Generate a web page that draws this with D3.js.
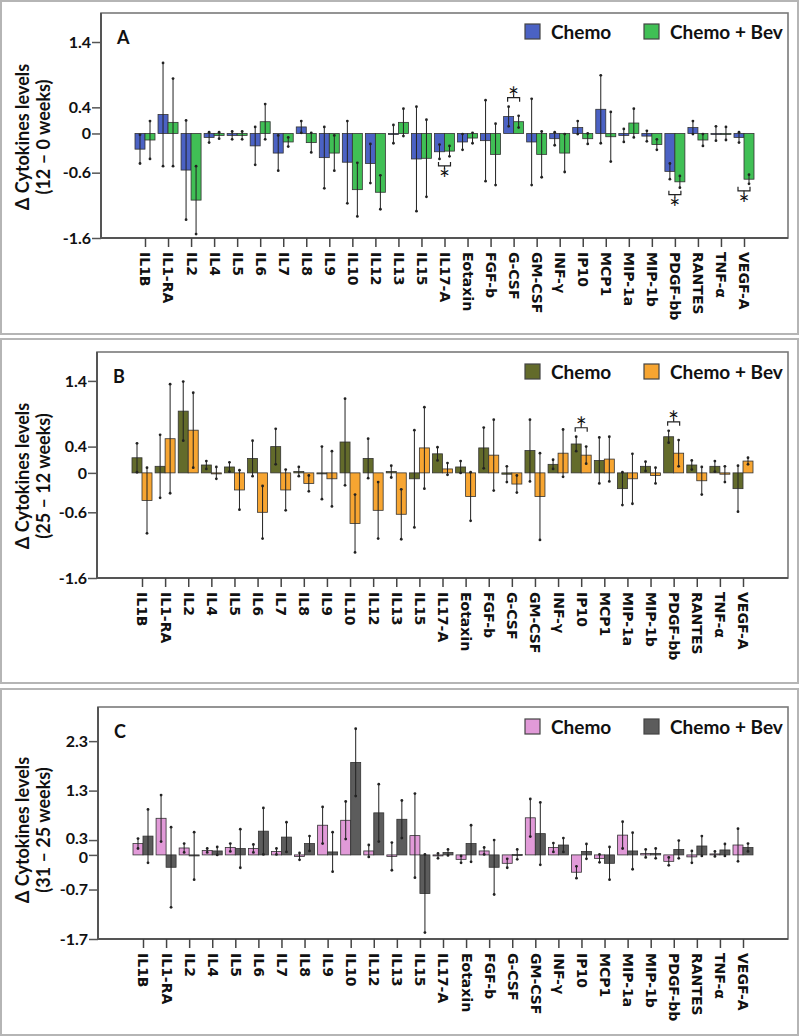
<!DOCTYPE html>
<html><head><meta charset="utf-8">
<script src="https://cdn.jsdelivr.net/npm/d3@7/dist/d3.min.js"></script>
<style>
body{margin:0;background:#fff;}
svg{display:block;}
</style></head>
<body>
<svg id="chart" width="800" height="1036"></svg>
<script>
const categories = ["IL1B","IL1-RA","IL2","IL4","IL5","IL6","IL7","IL8","IL9","IL10","IL12","IL13","IL15","IL17-A","Eotaxin","FGF-b","G-CSF","GM-CSF","INF-γ","IP10","MCP1","MIP-1a","MIP-1b","PDGF-bb","RANTES","TNF-α","VEGF-A"];
const seriesNames = ["Chemo","Chemo + Bev"];

// Panel A (12 – 0 weeks)
const aChemo    = [-0.24,0.29,-0.56,-0.06,-0.03,-0.19,-0.30,0.10,-0.37,-0.44,-0.46,-0.01,-0.39,-0.28,-0.13,-0.11,0.26,-0.13,-0.08,0.09,0.37,-0.03,-0.04,-0.58,0.09,0.00,-0.06];
const aChemoErr = [0.22,0.79,0.76,0.08,0.06,0.29,0.27,0.09,0.47,0.63,0.30,0.14,0.80,0.11,0.12,0.62,0.15,0.66,0.10,0.10,0.52,0.10,0.08,0.12,0.10,0.11,0.08];
const aBev      = [-0.10,0.17,-1.02,-0.03,-0.03,0.18,-0.13,-0.14,-0.30,-0.86,-0.90,0.17,-0.38,-0.27,-0.07,-0.32,0.18,-0.32,-0.30,-0.08,-0.05,0.16,-0.17,-0.74,-0.10,0.00,-0.70];
const aBevErr   = [0.29,0.67,0.52,0.05,0.06,0.27,0.07,0.15,0.27,0.41,0.26,0.21,0.59,0.08,0.08,0.47,0.09,0.35,0.29,0.08,0.38,0.22,0.08,0.09,0.09,0.10,0.07];
const aTicks    = [1.4,0.4,0,-0.6,-1.6];
const aSig      = [["IL17-A","below"],["G-CSF","above"],["PDGF-bb","below"],["VEGF-A","below"]];

// Panel B (25 – 12 weeks)
const bChemo    = [0.23,0.10,0.94,0.12,0.09,0.22,0.40,0.02,0.00,0.47,0.22,0.02,-0.09,0.29,0.09,0.38,-0.02,0.34,0.13,0.44,0.19,-0.24,0.10,0.55,0.12,0.10,-0.24];
const bChemoErr = [0.22,0.48,0.45,0.06,0.07,0.27,0.27,0.07,0.40,0.66,0.30,0.09,0.74,0.10,0.09,0.31,0.12,0.47,0.07,0.11,0.35,0.25,0.07,0.09,0.07,0.08,0.35];
const bBev      = [-0.42,0.52,0.65,0.00,-0.26,-0.60,-0.26,-0.16,-0.09,-0.77,-0.57,-0.63,0.38,0.06,-0.36,0.27,-0.17,-0.36,0.30,0.27,0.21,-0.09,-0.04,0.30,-0.12,-0.02,0.18];
const bBevErr   = [0.50,0.83,0.57,0.09,0.30,0.40,0.31,0.12,0.42,0.44,0.43,0.38,0.62,0.09,0.37,0.54,0.13,0.66,0.36,0.13,0.34,0.38,0.12,0.20,0.21,0.12,0.05];
const bTicks    = [1.4,0.4,0,-0.6,-1.6];
const bSig      = [["IP10","above"],["PDGF-bb","above"]];

// Panel C (31 – 25 weeks)
const cChemo    = [0.23,0.74,0.14,0.09,0.15,0.13,0.07,-0.03,0.60,0.70,0.08,-0.03,0.39,-0.02,-0.09,0.08,-0.17,0.75,0.15,-0.35,-0.07,0.40,0.03,-0.13,-0.04,0.02,0.20];
const cChemoErr = [0.10,0.47,0.09,0.04,0.08,0.08,0.06,0.07,0.37,0.38,0.12,0.28,0.85,0.05,0.07,0.07,0.09,0.38,0.09,0.12,0.08,0.27,0.08,0.08,0.12,0.05,0.33];
const cBev      = [0.38,-0.25,-0.02,0.08,0.13,0.48,0.36,0.23,0.06,1.87,0.85,0.72,-0.78,0.05,0.23,-0.25,0.01,0.43,0.20,0.07,-0.17,0.08,0.03,0.11,0.18,0.10,0.15];
const cBevErr   = [0.54,0.81,0.48,0.08,0.39,0.47,0.30,0.15,0.40,0.68,0.58,0.38,0.79,0.06,0.37,0.55,0.10,0.63,0.14,0.15,0.33,0.37,0.10,0.18,0.20,0.12,0.08];
const cTicks    = [2.3,1.3,0.3,0,-0.7,-1.7];
const cSig      = [];

const panels = [
  {letter:"A", sub:"(12 – 0 weeks)", s1:aChemo, e1:aChemoErr, s2:aBev, e2:aBevErr, ticks:aTicks, sig:aSig,
   colors:["#4b62c4","#40bf55"], outer:[1,1,797,333], frame:{l:101,t:13,r:788,b:238}, dom:[-1.6,1.844], xr:[145,744], titleY:137, legY:32},
  {letter:"B", sub:"(25 – 12 weeks)", s1:bChemo, e1:bChemoErr, s2:bBev, e2:bBevErr, ticks:bTicks, sig:bSig,
   colors:["#636b2b","#f7a531"], outer:[1,339,797,344], frame:{l:97,t:352,r:788,b:578}, dom:[-1.6,1.84], xr:[142,743], titleY:476, legY:372},
  {letter:"C", sub:"(31 – 25 weeks)", s1:cChemo, e1:cChemoErr, s2:cBev, e2:cBevErr, ticks:cTicks, sig:cSig,
   colors:["#e19ad8","#5c5c5c"], outer:[1,689,797,346], frame:{l:98,t:707,r:788,b:939}, dom:[-1.7,2.99], xr:[143,743], titleY:830, legY:727}
];

const svg = d3.select("#chart");
const labFont = "Lato, 'Open Sans', sans-serif";
const barW = 10;

panels.forEach(p => {
  const g = svg.append("g");
  const f = p.frame;
  g.append("rect").attr("x",p.outer[0]).attr("y",p.outer[1]).attr("width",p.outer[2]).attr("height",p.outer[3])
    .attr("fill","none").attr("stroke","#b5b5b5").attr("stroke-width",2);

  const x = d3.scalePoint().domain(categories).range(p.xr);
  const y = d3.scaleLinear().domain(p.dom).range([f.b, f.t]);

  g.append("rect").attr("x",f.l).attr("y",f.t).attr("width",f.r-f.l).attr("height",f.b-f.t)
    .attr("fill","none").attr("stroke","#7a7a7a").attr("stroke-width",1.6);
  g.append("line").attr("x1",f.l).attr("x2",f.l).attr("y1",f.t).attr("y2",f.b).attr("stroke","#555").attr("stroke-width",2);
  g.append("line").attr("x1",f.l).attr("x2",f.r).attr("y1",f.b).attr("y2",f.b).attr("stroke","#555").attr("stroke-width",2);

  const ya = g.append("g").attr("transform",`translate(${f.l},0)`)
    .call(d3.axisLeft(y).tickValues(p.ticks).tickSize(9).tickFormat(d => String(d)));
  ya.select(".domain").remove();
  ya.selectAll(".tick line").attr("stroke","#555").attr("stroke-width",1.5);
  // nudge labels of ticks that sit very close together so they do not collide
  const tk = p.ticks;
  ya.selectAll(".tick text").attr("font-family",labFont).attr("font-weight","bold").attr("font-size",16).attr("fill","#111").attr("x",-10)
    .attr("y", (d,i) => {
      let off = 0;
      if (i > 0 && Math.abs(y(tk[i]) - y(tk[i-1])) < 20) off += 2;
      if (i < tk.length-1 && Math.abs(y(tk[i]) - y(tk[i+1])) < 20) off -= 2;
      return off;
    });

  const xa = g.append("g").attr("transform",`translate(0,${f.b})`)
    .call(d3.axisBottom(x).tickSize(9).tickSizeOuter(0));
  xa.select(".domain").remove();
  xa.selectAll(".tick line").attr("stroke","#444").attr("stroke-width",1.5);
  xa.selectAll(".tick text")
    .attr("transform","rotate(90)").attr("x",14).attr("y",0).attr("dy","0.36em")
    .attr("text-anchor","start").attr("font-family","'DejaVu Sans', sans-serif").attr("font-weight","bold")
    .attr("font-size",14).attr("fill","#111");

  const rows = categories.map((c,i) => ({c, v:[p.s1[i],p.s2[i]], e:[p.e1[i],p.e2[i]]}));
  [0,1].forEach(k => {
    const bx = d => x(d.c) + (k===0 ? -barW : 0);
    g.append("g").selectAll("rect").data(rows).join("rect")
      .attr("x", bx).attr("width", barW)
      .attr("y", d => y(Math.max(0,d.v[k])))
      .attr("height", d => Math.max(1, Math.abs(y(d.v[k]) - y(0))))
      .attr("fill", p.colors[k]).attr("stroke","#333").attr("stroke-width",0.8);
    const eg = g.append("g");
    eg.selectAll("line").data(rows).join("line")
      .attr("x1", d => bx(d)+barW/2).attr("x2", d => bx(d)+barW/2)
      .attr("y1", d => y(d.v[k]+d.e[k])).attr("y2", d => y(d.v[k]-d.e[k]))
      .attr("stroke","#222").attr("stroke-width",1);
    eg.selectAll("circle.hi").data(rows).join("circle").attr("class","hi")
      .attr("cx", d => bx(d)+barW/2).attr("cy", d => y(d.v[k]+d.e[k])).attr("r",1.4).attr("fill","#222");
    eg.selectAll("circle.lo").data(rows).join("circle").attr("class","lo")
      .attr("cx", d => bx(d)+barW/2).attr("cy", d => y(d.v[k]-d.e[k])).attr("r",1.4).attr("fill","#222");
  });

  p.sig.forEach(([cat,pos]) => {
    const i = categories.indexOf(cat);
    const x1 = x(cat) - barW/2 - 1, x2 = x(cat) + barW/2 + 1, xm = x(cat);
    const sg = g.append("g").attr("fill","none").attr("stroke","#222").attr("stroke-width",1.2);
    if (pos === "above") {
      const top = Math.min(y(p.s1[i]+p.e1[i]), y(p.s2[i]+p.e2[i]));
      const yb = top - 5;
      sg.append("path").attr("d",`M${x1},${yb} V${yb-4} H${x2} V${yb}`);
      sg.append("path").attr("d",`M${xm},${yb-4} V${yb-7}`);
      g.append("text").attr("x",xm).attr("y",yb+5).attr("text-anchor","middle")
        .attr("font-family",labFont).attr("font-size",26).attr("fill","#111").text("*");
    } else {
      const bot = Math.max(y(p.s1[i]-p.e1[i]), y(p.s2[i]-p.e2[i]));
      const yt = bot + 3;
      sg.append("path").attr("d",`M${x1},${yt} V${yt+4} H${x2} V${yt}`);
      sg.append("path").attr("d",`M${xm},${yt+4} V${yt+7}`);
      g.append("text").attr("x",xm).attr("y",yt+27).attr("text-anchor","middle")
        .attr("font-family",labFont).attr("font-size",26).attr("fill","#111").text("*");
    }
  });

  g.append("text").attr("x",f.l+16).attr("y",f.t+31).attr("font-family",labFont).attr("font-weight","bold")
    .attr("font-size",18).attr("fill","#111").text(p.letter);

  const tg = g.append("text").attr("transform",`translate(0,${p.titleY}) rotate(-90)`)
    .attr("text-anchor","middle").attr("font-family",labFont).attr("font-weight","bold").attr("font-size",18).attr("fill","#111");
  tg.append("tspan").attr("x",0).attr("y",29).text("Δ Cytokines levels");
  tg.append("tspan").attr("x",0).attr("y",50).text(p.sub);

  const lx = [525, 644];
  seriesNames.forEach((n,k) => {
    g.append("rect").attr("x",lx[k]).attr("y",p.legY-8).attr("width",15).attr("height",15)
      .attr("fill",p.colors[k]).attr("stroke","#444").attr("stroke-width",1.2);
    g.append("text").attr("x",lx[k]+26).attr("y",p.legY).attr("dy","0.35em")
      .attr("font-family",labFont).attr("font-weight","bold").attr("font-size",19).attr("fill","#111").text(n);
  });
});
</script>
</body></html>
